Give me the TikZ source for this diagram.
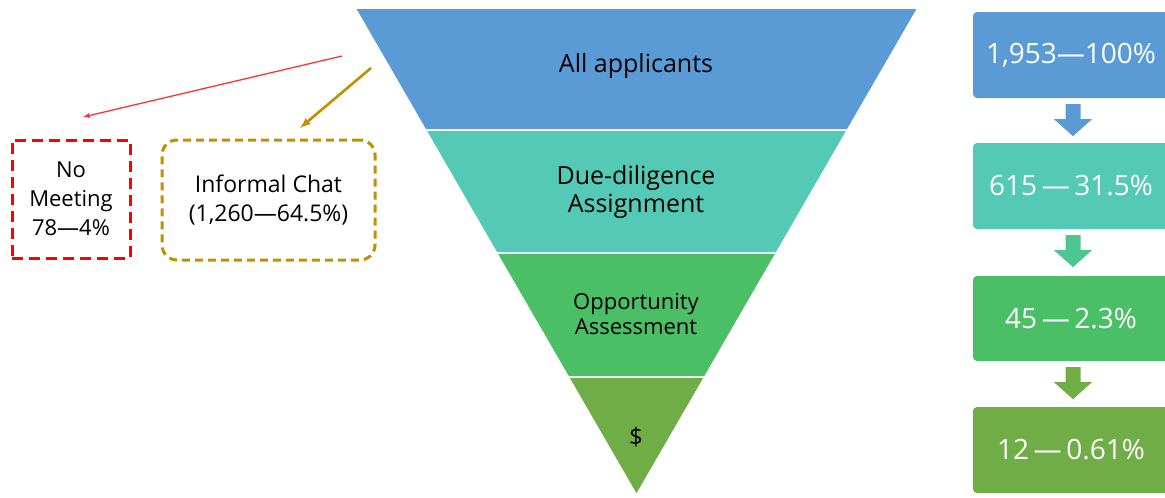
\documentclass[tikz,border=0pt]{standalone}
\usepackage{fontspec}
\setmainfont{Open Sans}
\usepackage{tikz}
\usetikzlibrary{positioning,calc}
\definecolor{fblue}{HTML}{5B9BD5}
\definecolor{fteal}{HTML}{53C9B6}
\definecolor{fgreen}{HTML}{4BBF66}
\definecolor{folive}{HTML}{70AD47}
\definecolor{fgold}{HTML}{BF9000}
\definecolor{fred}{HTML}{FF0000}
\tikzset{
  band/.style={font=\fontsize{25}{28}\selectfont, text=black, align=center},
  countbox/.style={fill=#1, rounded corners=4pt, minimum width=196pt, minimum height=86pt,
    text=white, font=\fontsize{28}{30}\selectfont, inner sep=0pt},
  dropbox/.style={line width=3pt, align=center, inner sep=0pt,
    font=\fontsize{23}{29}\selectfont},
}

\begin{document}
\begin{tikzpicture}[x=1pt,y=-1pt]
  \useasboundingbox (0,0) rectangle (1165,498);

  % funnel, cut into four bands
  \def\cx{636.5}
  \def\slope{0.578}
  \foreach \ya/\yb/\col in {8/130/fblue,130/253/fteal,253/377/fgreen,377/495/folive} {
    \fill[\col, draw=white, line width=1.5pt]
      ({\cx-\slope*(495-\ya)},\ya) -- ({\cx+\slope*(495-\ya)},\ya)
      -- ({\cx+\slope*(495-\yb)},\yb) -- ({\cx-\slope*(495-\yb)},\yb) -- cycle;
  }
  \node[band] (all) at (636,66) {All applicants};
  \node[band, font=\fontsize{25}{28}\selectfont] (due) at (636,192) {Due-diligence\\Assignment};
  \node[band, font=\fontsize{22}{25}\selectfont] (opp) at (636,314) {Opportunity\\Assessment};
  \node[band, font=\fontsize{24}{25}\selectfont] (cash) at (636,437) {\$};

  % counts on the right
  \node[countbox=fblue]  (box1) at (1071,55)    {1,953—100\%};
  \node[countbox=fteal]  (box2) at (1071,186)   {615\,—\,31.5\%};
  \node[countbox=fgreen, minimum height=85pt] (box3) at (1071,318.5) {45\,—\,2.3\%};
  \node[countbox=folive] (box4) at (1071,450)   {12\,—\,0.61\%};

  \foreach \a/\col in {box1/fblue,box2/fteal!55!fgreen,box3/folive} {
    \fill[\col] (\a.south) ++(-5.5,6) -- ++(15,0) -- ++(0,15) -- ++(11.5,0)
      -- ++(-19,17) -- ++(-19,-17) -- ++(11.5,0) -- cycle;
  }

  % applicants that drop out
  \node[dropbox, draw=fred, dash pattern=on 11pt off 6pt, font=\fontsize{22}{29}\selectfont,
    minimum width=118pt, minimum height=118pt] (nomeet) at (71,199) {No\\Meeting\\78—4\%};
  \node[dropbox, draw=fgold, dash pattern=on 8pt off 5pt, rounded corners=15pt,
    minimum width=213pt, minimum height=120pt] (chat) at (268.5,200) {Informal Chat\\(1,260—64.5\%)};

  \coordinate (redfrom) at (342,56);
  \coordinate (redto) at (83,117);
  \coordinate (goldfrom) at (371,68);
  \coordinate (goldto) at (300,128);
  \draw[fred!80, line width=1.3pt, -latex] (redfrom) -- (redto);
  \draw[fgold, line width=2.6pt, -latex] (goldfrom) -- (goldto);
\end{tikzpicture}
\end{document}
